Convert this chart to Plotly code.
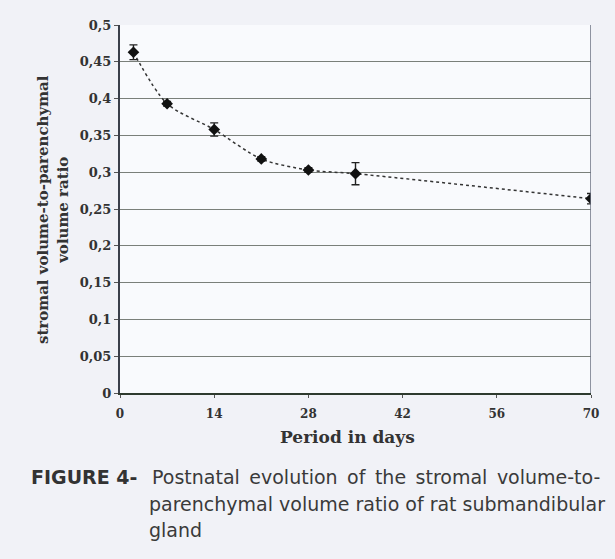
import plotly.graph_objects as go

days = [2, 7, 14, 21, 28, 35, 70]
ratio = [0.463, 0.393, 0.358, 0.318, 0.303, 0.298, 0.264]
err = [0.010, 0.003, 0.009, 0.003, 0.003, 0.015, 0.007]
x_ticks = [0, 14, 28, 42, 56, 70]
y_title = "stromal volume-to-parenchymal<br>volume ratio"
x_title = "Period in days"
caption_head = "FIGURE 4-"
caption_lines = ["Postnatal evolution of the stromal volume-to-",
                 "parenchymal volume ratio of rat submandibular",
                 "gland"]

W, H = 615, 559
L, R, T, B = 120, 24, 25, 166
pw, ph = W - L - R, H - T - B

def px(x):
    return (x - L) / pw

def py(y):
    return (H - B - y) / ph

serif = "DejaVu Serif"
sans = "DejaVu Sans"
fig = go.Figure()
fig.add_trace(go.Scatter(x=days, y=ratio, mode="lines",
                         line=dict(color="#333333", width=1.5, dash="dot", shape="spline", smoothing=0.8),
                         hoverinfo="skip", showlegend=False))
fig.add_trace(go.Scatter(x=days, y=ratio, mode="markers",
                         marker=dict(symbol="diamond", size=9, color="#111111"),
                         error_y=dict(type="data", array=err, color="#222222", thickness=1.4, width=4),
                         showlegend=False))

tickfont = dict(family=serif, size=12, color="#333333", weight="bold")
fig.update_layout(
    width=W, height=H,
    margin=dict(l=L, r=R, t=T, b=B),
    paper_bgcolor="#f1f2f7",
    plot_bgcolor="#f9fafd",
    separators=", ",
    font=dict(family=serif, color="#222222"),
    xaxis=dict(range=[0, 70], tickvals=x_ticks, showgrid=False, zeroline=False,
               showline=True, linecolor="#2e3a2e", linewidth=2, mirror=False,
               ticks="outside", ticklen=3, tickcolor="#555555",
               ticklabelstandoff=6, tickfont=tickfont),
    yaxis=dict(range=[0, 0.5], dtick=0.05, showgrid=True, gridcolor="#7a7f7a", gridwidth=1,
               zeroline=False, showline=True, linecolor="#3a3f4a", linewidth=2,
               ticks="outside", ticklen=4, tickcolor="#555555",
               tickfont=dict(family=serif, size=13, color="#333333", weight="bold")),
)
# right border of plot
fig.add_shape(type="line", xref="x", yref="paper", x0=70, x1=70, y0=0, y1=1,
              line=dict(color="#6a7080", width=1.5))

anns = []
anns.append(dict(text="<b>" + y_title + "</b>", x=px(53), y=py(210), xref="paper", yref="paper",
                 textangle=-90, showarrow=False, font=dict(family=serif, size=15, color="#333333"),
                 xanchor="center", yanchor="middle"))
anns.append(dict(text="<b>" + x_title + "</b>", x=px(347), y=py(437), xref="paper", yref="paper",
                 showarrow=False, font=dict(family=serif, size=17, color="#333333"),
                 xanchor="center", yanchor="middle"))
anns.append(dict(text="<b>" + caption_head + "</b>", x=px(29), y=py(477), xref="paper", yref="paper",
                 showarrow=False, font=dict(family=sans, size=19, color="#333333"),
                 xanchor="left", yanchor="middle"))
starts = [150, 147, 147]
for i, line in enumerate(caption_lines):
    shown = line.replace(" ", "\u2002") if i == 0 else line
    anns.append(dict(text=shown, x=px(starts[i]), y=py(477 + 26.5 * i), xref="paper", yref="paper",
                     showarrow=False, font=dict(family=sans, size=19, color="#3a3a3a"),
                     xanchor="left", yanchor="middle"))
fig.update_layout(annotations=anns)

fig.write_html("out.html")
